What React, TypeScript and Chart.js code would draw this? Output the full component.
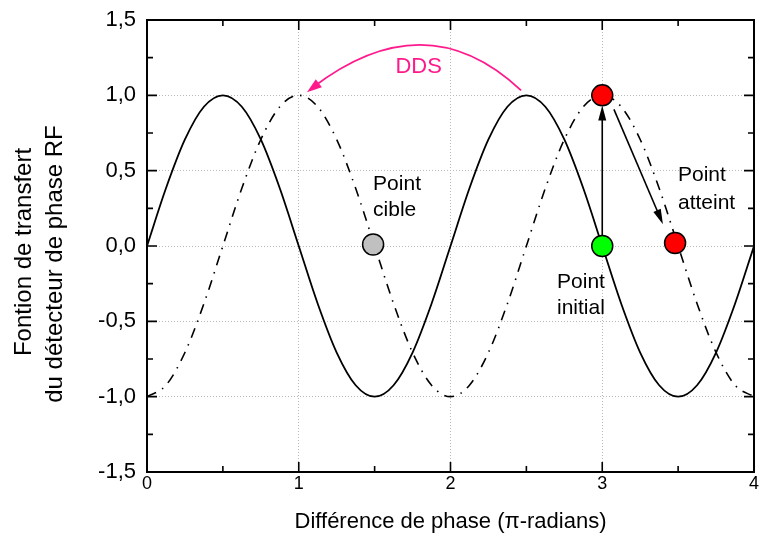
import React, { useEffect, useRef } from 'react';
import Chart from 'chart.js/auto';

// Phase difference (π-radians), sampled every 1/8
const phaseX = [0, 0.125, 0.25, 0.375, 0.5, 0.625, 0.75, 0.875, 1, 1.125, 1.25, 1.375, 1.5, 1.625, 1.75, 1.875, 2, 2.125, 2.25, 2.375, 2.5, 2.625, 2.75, 2.875, 3, 3.125, 3.25, 3.375, 3.5, 3.625, 3.75, 3.875, 4];
// Solid curve (initial transfer function)
const solidY = [0, 0.383, 0.707, 0.924, 1, 0.924, 0.707, 0.383, 0, -0.383, -0.707, -0.924, -1, -0.924, -0.707, -0.383, 0, 0.383, 0.707, 0.924, 1, 0.924, 0.707, 0.383, 0, -0.383, -0.707, -0.924, -1, -0.924, -0.707, -0.383, 0];
// Dash-dot curve (shifted transfer function)
const dashedY = [-1, -0.924, -0.707, -0.383, 0, 0.383, 0.707, 0.924, 1, 0.924, 0.707, 0.383, 0, -0.383, -0.707, -0.924, -1, -0.924, -0.707, -0.383, 0, 0.383, 0.707, 0.924, 1, 0.924, 0.707, 0.383, 0, -0.383, -0.707, -0.924, -1];

// Marker points [x, y]
const pointCible = [1.49, 0.01];
const pointInitial = [3.0, 0.0];
const pointTop = [3.0, 1.0];
const pointAtteint = [3.48, 0.02];

// Annotation positions (data coords)
const labelCible = { x: 1.49, lines: ['Point', 'cible'], ys: [0.413, 0.237] };
const labelInitial = { x: 2.702, lines: ['Point', 'initial'], ys: [-0.24, -0.413] };
const labelAtteint = { x: 3.499, lines: ['Point', 'atteint'], ys: [0.467, 0.283] };
const arrowUp = [[3.0, 0.068], [3.0, 0.933]];
const arrowDown = [[3.077, 0.907], [3.40, 0.145]];
const ddsArc = [[2.465, 1.033], [1.839, 1.627], [1.054, 1.02]];
const ddsLabel = { text: 'DDS', x: 1.79, y: 1.187 };

const xTickValues = [0, 1, 2, 3, 4];
const yTitleLines = ['Fontion de transfert', 'du détecteur de phase RF'];
const xTitle = 'Différence de phase (π-radians)';

const FONT = '"Liberation Sans", Arial, sans-serif';
const MAGENTA = '#ff1a8c';

function arrowHead(ctx: CanvasRenderingContext2D, tx: number, ty: number, dx: number, dy: number, len: number, hw: number) {
  const n = Math.hypot(dx, dy);
  const ux = dx / n, uy = dy / n;
  const bx = tx - ux * len, by = ty - uy * len;
  ctx.beginPath();
  ctx.moveTo(tx, ty);
  ctx.lineTo(bx - uy * hw, by + ux * hw);
  ctx.lineTo(bx + uy * hw, by - ux * hw);
  ctx.closePath();
  ctx.fill();
}

const decor = {
  id: 'decor',
  afterDatasetsDraw(chart: any) {
    const { ctx, chartArea: a, scales } = chart;
    const xs = scales.x, ys = scales.y;
    const px = (v: number) => xs.getPixelForValue(v);
    const py = (v: number) => ys.getPixelForValue(v);
    ctx.save();
    ctx.lineCap = 'butt';
    // arrows
    ctx.strokeStyle = '#000';
    ctx.fillStyle = '#000';
    ctx.lineWidth = 1.6;
    for (const ar of [arrowUp, arrowDown]) {
      const x1 = px(ar[0][0]), y1 = py(ar[0][1]), x2 = px(ar[1][0]), y2 = py(ar[1][1]);
      const n = Math.hypot(x2 - x1, y2 - y1);
      const ux = (x2 - x1) / n, uy = (y2 - y1) / n;
      ctx.beginPath();
      ctx.moveTo(x1, y1);
      ctx.lineTo(x2 - ux * 10, y2 - uy * 10);
      ctx.stroke();
      arrowHead(ctx, x2, y2, x2 - x1, y2 - y1, 15, 4);
    }
    // DDS arc
    ctx.strokeStyle = MAGENTA;
    ctx.fillStyle = MAGENTA;
    ctx.lineWidth = 1.8;
    const p0x = px(ddsArc[0][0]), p0y = py(ddsArc[0][1]);
    const cx = px(ddsArc[1][0]), cy = py(ddsArc[1][1]);
    const p2x = px(ddsArc[2][0]), p2y = py(ddsArc[2][1]);
    ctx.beginPath();
    ctx.moveTo(p0x, p0y);
    ctx.quadraticCurveTo(cx, cy, p2x + 6, p2y - 5);
    ctx.stroke();
    arrowHead(ctx, p2x, p2y, p2x - cx, p2y - cy, 15, 5);
    ctx.font = `22px ${FONT}`;
    ctx.textAlign = 'center';
    ctx.textBaseline = 'middle';
    ctx.fillText(ddsLabel.text, px(ddsLabel.x), py(ddsLabel.y));
    // labels
    ctx.fillStyle = '#000';
    ctx.font = `21px ${FONT}`;
    ctx.textAlign = 'left';
    for (const lb of [labelCible, labelInitial, labelAtteint]) {
      lb.lines.forEach((t, i) => ctx.fillText(t, px(lb.x), py(lb.ys[i])));
    }
    // frame
    ctx.strokeStyle = '#000';
    ctx.lineWidth = 2;
    ctx.strokeRect(a.left, a.top, a.right - a.left, a.bottom - a.top);
    // inward ticks
    ctx.lineWidth = 1.6;
    ctx.beginPath();
    for (let i = 0; i <= 8; i++) {
      const v = i * 0.5;
      const L = i % 2 === 0 ? 10 : 6;
      const x = px(v);
      ctx.moveTo(x, a.bottom); ctx.lineTo(x, a.bottom - L);
      ctx.moveTo(x, a.top); ctx.lineTo(x, a.top + L);
    }
    for (let i = 0; i <= 12; i++) {
      const v = -1.5 + i * 0.25;
      const L = i % 2 === 0 ? 10 : 6;
      const y = py(v);
      ctx.moveTo(a.left, y); ctx.lineTo(a.left + L, y);
      ctx.moveTo(a.right, y); ctx.lineTo(a.right - L, y);
    }
    ctx.stroke();
    // y title (two lines, rotated)
    ctx.fillStyle = '#000';
    ctx.font = `24px ${FONT}`;
    ctx.textAlign = 'center';
    ctx.textBaseline = 'middle';
    const centers = [[24, 252], [55, 264]];
    centers.forEach(([tx, tyc], i) => {
      ctx.save();
      ctx.translate(tx, tyc);
      ctx.rotate(-Math.PI / 2);
      ctx.fillText(yTitleLines[i], 0, 0);
      ctx.restore();
    });
    ctx.restore();
  },
};

export default function App() {
  const ref = useRef<HTMLCanvasElement>(null);
  useEffect(() => {
    const canvas = ref.current!;
    const toPts = (ys: number[]) => phaseX.map((x, i) => ({ x, y: ys[i] }));
    const marker = (p: number[], color: string) => ({
      type: 'scatter' as const,
      data: [{ x: p[0], y: p[1] }],
      pointRadius: 10.5,
      pointBackgroundColor: color,
      pointBorderColor: '#000',
      pointBorderWidth: 1.5,
      showLine: false,
      order: 0,
      clip: false as any,
    });
    const chart = new Chart(canvas, {
      type: 'scatter',
      data: {
        datasets: [
          marker(pointCible, '#c0c0c0'),
          marker(pointInitial, '#00ff00'),
          marker(pointTop, '#ff0000'),
          marker(pointAtteint, '#ff0000'),
          {
            data: toPts(solidY),
            showLine: true,
            borderColor: '#000',
            borderWidth: 1.8,
            pointRadius: 0,
            cubicInterpolationMode: 'monotone',
            order: 1,
          },
          {
            data: toPts(dashedY),
            showLine: true,
            borderColor: '#000',
            borderWidth: 1.6,
            borderDash: [10, 7, 1.5, 7],
            pointRadius: 0,
            cubicInterpolationMode: 'monotone',
            order: 1,
          },
        ] as any,
      },
      plugins: [decor],
      options: {
        responsive: false,
        animation: false,
        events: [],
        layout: { autoPadding: false, padding: { top: 20, right: 5, left: 0, bottom: 0 } },
        plugins: { legend: { display: false }, tooltip: { enabled: false } },
        scales: {
          x: {
            type: 'linear',
            min: 0,
            max: 4,
            afterBuildTicks: (s: any) => { s.ticks = xTickValues.map((v) => ({ value: v })); },
            ticks: { color: '#000', font: { family: FONT, size: 18 }, padding: 1, maxRotation: 0 },
            grid: { color: '#b8b8b8', drawTicks: false, lineWidth: 1 },
            border: { display: false, dash: [1, 2] },
            title: { display: true, text: xTitle, color: '#000', font: { family: FONT, size: 22 }, padding: { top: 8, bottom: 2 } },
            afterFit: (s: any) => { s.height = 65; s.paddingLeft = 0; s.paddingRight = 0; },
          },
          y: {
            type: 'linear',
            min: -1.5,
            max: 1.5,
            ticks: {
              stepSize: 0.5,
              color: '#000',
              font: { family: FONT, size: 22 },
              padding: 11,
              callback: (v: any) => Number(v).toFixed(1).replace('.', ','),
            },
            grid: { color: '#b8b8b8', drawTicks: false, lineWidth: 1 },
            border: { display: false, dash: [1, 2] },
            afterFit: (s: any) => { s.width = 147; s.paddingTop = 0; s.paddingBottom = 0; },
          },
        },
      } as any,
    });
    return () => chart.destroy();
  }, []);
  return (
    <div style={{ position: 'absolute', left: 0, top: 0, width: 759, height: 537, background: '#fff' }}>
      <canvas ref={ref} width={759} height={537} style={{ display: 'block' }} />
    </div>
  );
}
